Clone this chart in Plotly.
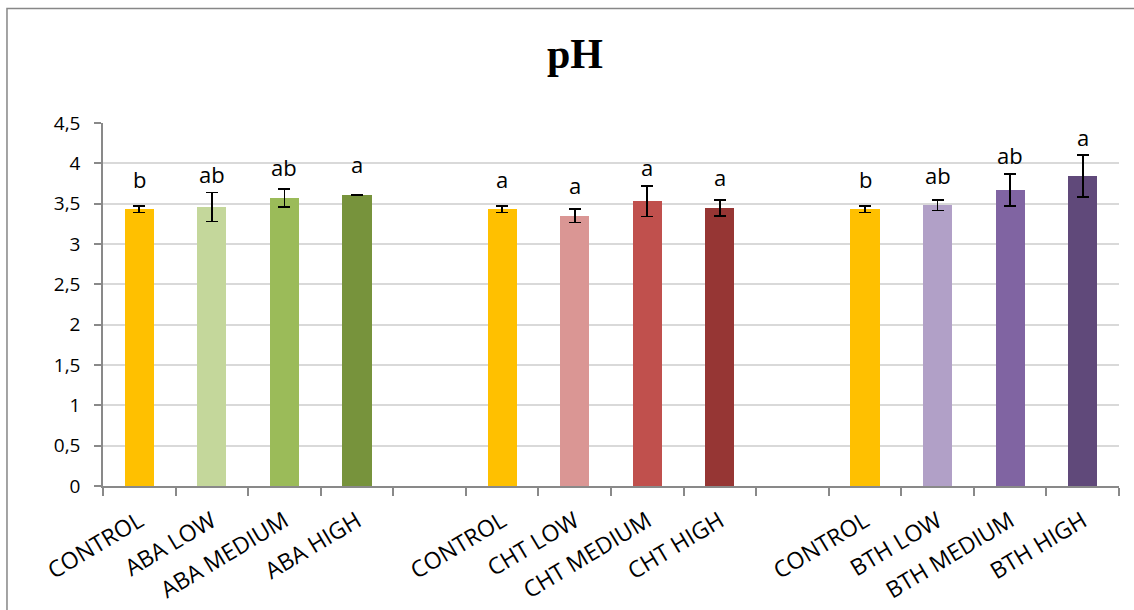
import plotly.graph_objects as go

categories = ["CONTROL", "ABA LOW", "ABA MEDIUM", "ABA HIGH", "",
              "CONTROL", "CHT LOW", "CHT MEDIUM", "CHT HIGH", "",
              "CONTROL", "BTH LOW", "BTH MEDIUM", "BTH HIGH"]
ph_values = [3.43, 3.46, 3.57, 3.61, None,
             3.43, 3.35, 3.53, 3.445, None,
             3.43, 3.48, 3.67, 3.84]
ph_errors = [0.04, 0.18, 0.11, 0.005, None,
             0.04, 0.085, 0.19, 0.10, None,
             0.04, 0.065, 0.20, 0.26]
letters = ["b", "ab", "ab", "a", "",
           "a", "a", "a", "a", "",
           "b", "ab", "ab", "a"]
bar_colors = ["#FFC000", "#C4D79B", "#9BBB59", "#77933C", "#FFFFFF",
              "#FFC000", "#DA9694", "#C0504D", "#963634", "#FFFFFF",
              "#FFC000", "#B1A0C7", "#8064A2", "#60497A"]
y_ticks = [0, 0.5, 1, 1.5, 2, 2.5, 3, 3.5, 4, 4.5]
y_tick_text = ["0", "0,5", "1", "1,5", "2", "2,5", "3", "3,5", "4", "4,5"]

positions = list(range(len(categories)))
present = [i for i, v in enumerate(ph_values) if v is not None]

fig = go.Figure()
fig.add_trace(go.Bar(
    x=[positions[i] for i in present],
    y=[ph_values[i] for i in present],
    marker=dict(color=[bar_colors[i] for i in present], line=dict(width=0)),
    width=0.4,
    error_y=dict(type="data", array=[ph_errors[i] for i in present],
                 visible=True, color="black", thickness=1.6, width=6),
    showlegend=False,
    hoverinfo="skip",
))

for i in present:
    v = ph_values[i]
    e = ph_errors[i]
    ya = max(v + 0.17, v + e + 0.02)
    fig.add_annotation(x=positions[i], y=ya, text=letters[i], showarrow=False,
                       yanchor="bottom", xanchor="center",
                       font=dict(family="Open Sans", size=22, color="black"))

# outer chart border (left/top visible)
fig.add_shape(type="rect", xref="paper", yref="paper",
              x0=-0.0945, x1=1.2, y0=-0.5, y1=1.3157,
              line=dict(color="#878787", width=1.5), fillcolor="rgba(0,0,0,0)",
              layer="below")

fig.update_layout(
    width=1134, height=610,
    margin=dict(l=103, r=15, t=123, b=124, autoexpand=False),
    paper_bgcolor="white", plot_bgcolor="white",
    title=dict(text="<b>pH</b>", x=575 / 1134, xanchor="center",
               y=1 - 53 / 610, yanchor="middle",
               font=dict(family="Liberation Serif", size=42, color="black")),
    bargap=0,
)
fig.update_xaxes(
    range=[-0.5, len(categories) - 0.5],
    tickmode="array", tickvals=positions, ticktext=categories,
    ticks="", tickangle=-31, automargin=False,
    tickfont=dict(family="Open Sans", size=23, color="black"),
    ticklabelstandoff=11,
    showline=True, linecolor="#898989", linewidth=1.5,
    showgrid=False, zeroline=False,
    minor=dict(tickmode="array",
               tickvals=[p - 0.5 for p in positions] + [positions[-1] + 0.5],
               ticks="outside", ticklen=8, tickcolor="#898989", tickwidth=1.5,
               showgrid=False),
)
fig.update_yaxes(
    range=[0, 4.5], automargin=False,
    tickmode="array", tickvals=y_ticks, ticktext=y_tick_text,
    ticks="outside", ticklen=7, tickcolor="#898989", tickwidth=1.5,
    tickfont=dict(family="Open Sans", size=19, color="black"),
    ticklabelstandoff=10,
    showline=True, linecolor="#898989", linewidth=1.5,
    showgrid=True, gridcolor="#D9D9D9", gridwidth=1.5,
    zeroline=False,
)

fig.write_html("out.html", config={"displayModeBar": False},
               post_script="document.body.style.margin='0px';")
